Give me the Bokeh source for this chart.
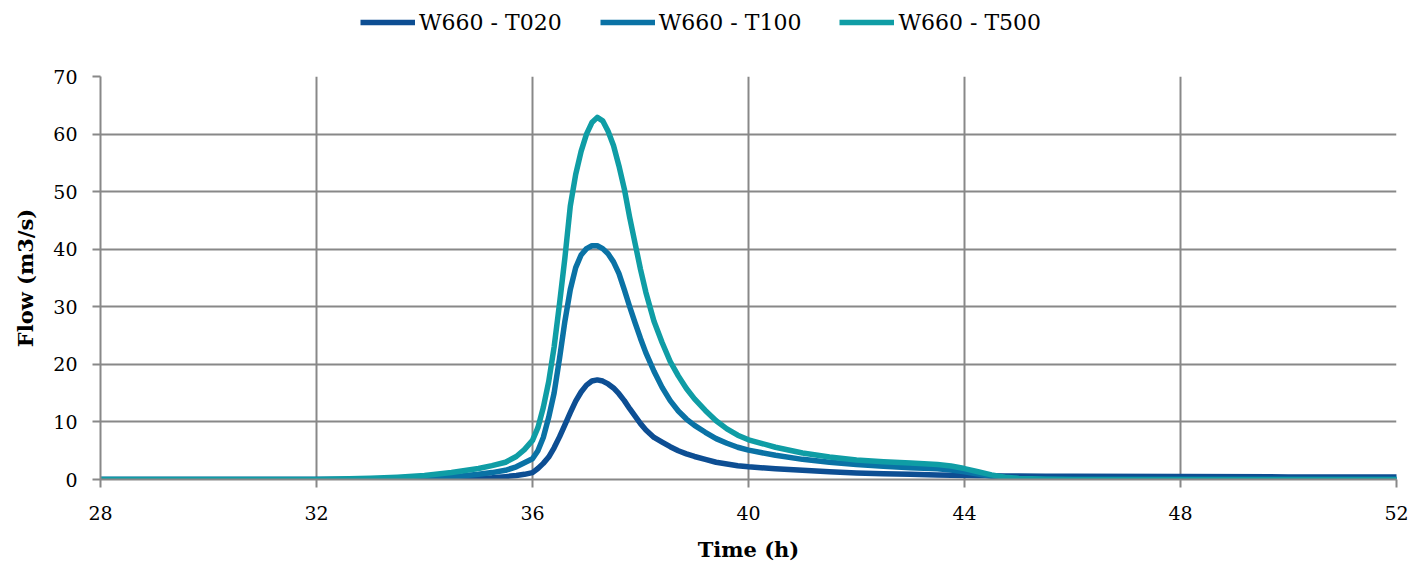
from bokeh.plotting import figure
from bokeh.layouts import column
from bokeh.models import Legend, LegendItem, Range1d, FixedTicker
from bokeh.embed import file_html
from bokeh.resources import INLINE

time_h = [28, 30, 32, 33, 33.5, 34, 34.5, 35, 35.25, 35.5,
          35.7, 35.85, 36.0, 36.1, 36.2, 36.3, 36.4, 36.5, 36.6, 36.7,
          36.8, 36.9, 37.0, 37.1, 37.2, 37.3, 37.4, 37.5, 37.6, 37.7,
          37.8, 37.9, 38.0, 38.1, 38.25, 38.4, 38.55, 38.7, 38.85, 39.0,
          39.2, 39.4, 39.6, 39.8, 40.0, 40.5, 41, 41.5, 42, 42.5,
          43, 43.5, 43.75, 44, 44.25, 44.5, 44.75, 45, 45.5, 46,
          48, 50, 52]

t020 = [0, 0, 0, 0, 0.02, 0.05, 0.1, 0.2, 0.3, 0.5,
        0.7, 0.9, 1.2, 1.9, 2.8, 3.9, 5.5, 7.4, 9.5, 11.6,
        13.6, 15.2, 16.4, 17.1, 17.3, 17.1, 16.6, 15.9, 14.9, 13.7,
        12.3, 11.0, 9.7, 8.6, 7.3, 6.5, 5.7, 5.0, 4.45, 4.0,
        3.5, 3.0, 2.7, 2.4, 2.2, 1.85, 1.6, 1.35, 1.15, 1.0,
        0.9, 0.8, 0.75, 0.7, 0.67, 0.65, 0.62, 0.6, 0.58, 0.55,
        0.5, 0.45, 0.42]

t100 = [0, 0, 0, 0.05, 0.1, 0.2, 0.45, 0.9, 1.2, 1.6,
        2.2, 2.9, 3.6, 5.0, 7.3, 10.8, 15.0, 21.0, 27.5, 33.0,
        36.8, 39.0, 40.1, 40.6, 40.6, 40.1, 39.2, 37.8, 35.8, 33.0,
        30.0, 27.2, 24.5, 22.0, 18.8, 16.0, 13.7, 11.9, 10.5, 9.4,
        8.2, 7.1, 6.3, 5.6, 5.1, 4.2, 3.5, 3.0, 2.6, 2.3,
        2.05, 1.85, 1.65, 1.35, 0.95, 0.55, 0.28, 0.12, 0.03, 0,
        0, 0, 0]

t500 = [0, 0, 0, 0.2, 0.4, 0.7, 1.2, 1.9, 2.4, 3.0,
        4.0, 5.2, 6.8, 9.0, 12.5, 17.0, 23.0, 30.5, 38.5, 47.5,
        53.0, 57.0, 60.0, 62.0, 62.9, 62.3, 60.5, 58.0, 54.5, 50.5,
        45.5, 41.0, 36.5, 32.5, 27.5, 23.8, 20.5, 18.0, 15.8, 14.0,
        12.0, 10.2, 8.8, 7.7, 6.9, 5.6, 4.6, 3.9, 3.4, 3.1,
        2.85, 2.6, 2.35, 1.9, 1.35, 0.8, 0.4, 0.2, 0.05, 0,
        0, 0, 0]

series_names = ["W660 - T020", "W660 - T100", "W660 - T500"]
series_colors = ["#0D4E93", "#0A72A5", "#0F9DA5"]
x_ticks = [28, 32, 36, 40, 44, 48, 52]
y_ticks = [0, 10, 20, 30, 40, 50, 60, 70]
all_series = [t020, t100, t500]

FONT = "DejaVu Serif"
GRID = "#888888"
LEG_H = 42

# legend strip (its own frame, lines kept out of view)
lg = figure(width=1410, height=LEG_H, output_backend="svg", toolbar_location=None,
            x_range=Range1d(0, 1), y_range=Range1d(1000, 1001),
            min_border=0, min_border_left=0, min_border_right=0,
            min_border_top=0, min_border_bottom=0)
lg.axis.visible = False
lg.grid.visible = False
lg.outline_line_color = None
lg.border_fill_color = "white"
leg_renderers = []
for ys, c in zip(all_series, series_colors):
    leg_renderers.append(lg.line(time_h, ys, line_color=c, line_width=5.5))
items = [LegendItem(label=n, renderers=[r]) for n, r in zip(series_names, leg_renderers)]
legend = Legend(items=items, orientation="horizontal", location=(260, 7),
                label_text_font=FONT, label_text_font_size="22px", label_text_color="black",
                glyph_width=55, glyph_height=26, label_standoff=4, spacing=38,
                padding=0, margin=0, border_line_color=None, background_fill_alpha=0)
lg.add_layout(legend, "center")

p = figure(width=1410, height=567 - LEG_H, output_backend="svg", toolbar_location=None,
           x_range=Range1d(28, 52), y_range=Range1d(0, 70),
           min_border_left=100, min_border_right=14, min_border_top=76 - LEG_H,
           min_border_bottom=88)
p.outline_line_color = None
p.background_fill_color = "white"
p.border_fill_color = "white"

for ys, c in zip(all_series, series_colors):
    p.line(time_h, ys, line_color=c, line_width=5.5, line_join="round", line_cap="round")

p.xaxis.ticker = FixedTicker(ticks=x_ticks)
p.yaxis.ticker = FixedTicker(ticks=y_ticks)
for ax in (p.xaxis, p.yaxis):
    ax.axis_line_color = GRID
    ax.axis_line_width = 2
    ax.major_tick_line_color = GRID
    ax.major_tick_line_width = 2
    ax.major_tick_in = 0
    ax.major_tick_out = 8
    ax.minor_tick_line_color = None
    ax.major_label_text_font = FONT
    ax.major_label_text_font_size = "19px"
    ax.major_label_text_color = "black"
    ax.axis_label_text_font = FONT
    ax.axis_label_text_font_style = "bold"
    ax.axis_label_text_font_size = "21px"
    ax.axis_label_text_color = "black"
p.xaxis.major_label_standoff = 18
p.yaxis.major_label_standoff = 15
p.xaxis.axis_label = "Time (h)"
p.yaxis.axis_label = "Flow (m3/s)"
p.xaxis.axis_label_standoff = 14
p.yaxis.axis_label_standoff = 12

for g in (p.xgrid, p.ygrid):
    g.grid_line_color = GRID
    g.grid_line_width = 2

layout = column(lg, p, spacing=0)
open("out.html", "w").write(file_html(layout, INLINE))
